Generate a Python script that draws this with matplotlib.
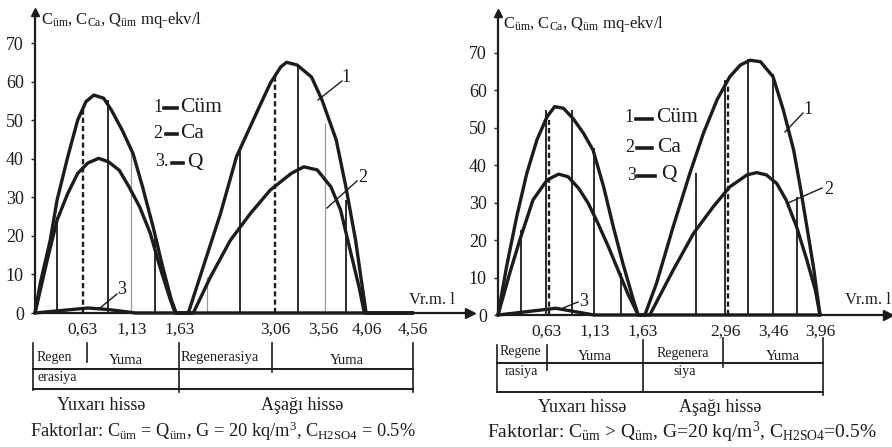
import numpy as np
import matplotlib
matplotlib.use("Agg")
import matplotlib.pyplot as plt
from matplotlib.lines import Line2D
from matplotlib import transforms

plt.rcParams['font.family'] = ['Liberation Serif', 'DejaVu Serif']
plt.rcParams['mathtext.fontset'] = 'custom'
plt.rcParams['mathtext.rm'] = 'Liberation Serif'
plt.rcParams['mathtext.it'] = 'Liberation Serif:italic'
plt.rcParams['mathtext.bf'] = 'Liberation Serif:bold'

INK = '#1c1c1c'

# ---------------- data: left panel (C_um = Q_um) ----------------
L_ticks = [0.63, 1.13, 1.63, 3.06, 3.56, 4.06, 4.56]
L_ticklabels = ["0,63", "1,13", "1,63", "3,06", "3,56", "4,06", "4,56"]
L_t1 = [0, 0.07, 0.20, 0.29, 0.43, 0.56, 0.66, 0.74, 0.84, 0.92, 1.03, 1.14, 1.24, 1.35, 1.45, 1.54, 1.59,
        1.755, 1.98, 2.24, 2.48, 2.78, 2.99, 3.12, 3.18, 3.29, 3.44, 3.55, 3.71, 3.82, 3.93, 4.00, 4.05, 4.56]
L_c1 = [0, 7.8, 18.9, 29.3, 40.5, 50, 54.8, 56.5, 55.7, 52.6, 47.4, 41.4, 32.7, 22.3, 11.9, 3.4, 0,
        0, 12, 25.8, 40.5, 51.8, 59.6, 63.8, 65, 64.3, 61.2, 55.2, 44.9, 32.7, 18.9, 7.8, 0, 0]
L_t2 = [0, 0.16, 0.29, 0.43, 0.56, 0.68, 0.79, 0.89, 1.00, 1.10, 1.21, 1.32, 1.42, 1.53, 1.58,
        1.83, 2.09, 2.39, 2.69, 2.99, 3.23, 3.36, 3.50, 3.65, 3.76, 3.86, 3.97, 4.03, 4.56]
L_c2 = [0, 13.7, 24.1, 31, 36.2, 38.9, 40.1, 39.2, 37, 32.7, 27.5, 20.7, 12, 3.4, 0,
        0, 9.4, 18.9, 25.8, 31.9, 36.2, 37.9, 37.1, 32.7, 26.7, 17.1, 6.7, 0, 0]
L_t3 = [0, 0.43, 0.68, 0.89, 1.17, 4.56]
L_c3 = [0, 0.8, 1.3, 0.9, 0, 0]
L_vt = [0.29, 0.63, 0.88, 1.12, 1.37, 2.04, 2.54, 3.06, 3.30, 3.58, 3.82]
L_vh = [25, 53.5, 55.2, 43.1, 20, 9.4, 42.3, 61.3, 64.3, 49.2, 29.3]
L_vs = ['s', 'd', 's', 'g', 's', 'g', 's', 'd', 's', 'g', 's']

# ---------------- data: right panel (C_um > Q_um) ----------------
R_ticks = [0.63, 1.13, 1.63, 2.96, 3.46, 3.96]
R_ticklabels = ["0,63", "1,13", "1,63", "2,96", "3,46", "3,96"]
R_t1 = [0, 0.11, 0.24, 0.37, 0.50, 0.63, 0.71, 0.80, 0.90, 1.01, 1.11, 1.22, 1.32, 1.42, 1.53, 1.58,
        1.66, 1.85, 2.12, 2.39, 2.61, 2.83, 3.01, 3.12, 3.22, 3.33, 3.46, 3.57, 3.68, 3.75, 3.82, 3.89, 3.96]
R_c1 = [0, 12.9, 26.2, 37.8, 46.7, 52.9, 55.6, 55.2, 52.5, 48.5, 44, 34.2, 23.6, 13.8, 4, 0,
        0, 8.5, 23.6, 37.8, 48.5, 57.4, 63.6, 66.7, 68, 67.6, 63.6, 54.7, 44, 34.2, 23.6, 12.9, 0]
R_t2 = [0, 0.15, 0.28, 0.45, 0.63, 0.75, 0.85, 0.96, 1.06, 1.16, 1.27, 1.37, 1.47, 1.58,
        1.74, 2.12, 2.45, 2.77, 3.01, 3.19, 3.29, 3.39, 3.50, 3.60, 3.71, 3.82, 3.91, 3.96]
R_c2 = [0, 11.1, 20, 30.7, 36, 37.6, 36.9, 33.8, 29.8, 24.5, 18.2, 12, 5.8, 0,
        0, 12, 21.8, 28.9, 34.2, 37.4, 38, 37.4, 35.1, 30.7, 23.6, 14.7, 6.7, 0]
R_t3 = [0, 0.54, 0.72, 0.90, 1.12, 3.96]
R_c3 = [0, 1.3, 1.8, 1.0, 0, 0]
R_vt = [0.30, 0.62, 0.65, 0.89, 1.12, 1.40, 2.49, 2.96, 2.99, 3.20, 3.46, 3.72]
R_vh = [22.7, 54.7, 52, 54.7, 44.5, 11.2, 37.8, 62.7, 61, 68.3, 64.3, 31.5]
R_vs = ['s', 's', 'd', 's', 's', 's', 's', 's', 'd', 's', 's', 's']

y_ticks = [0, 10, 20, 30, 40, 50, 60, 70]

# ---------------- figure helpers ----------------
W, H = 892, 447
fig = plt.figure(figsize=(W / 100, H / 100), dpi=100)
PX = transforms.Affine2D().scale(1 / W, -1 / H).translate(0, 1) + fig.transFigure


def ptext(x, y, s, size, ha='left', va='center', **kw):
    fig.text(x, y, s, transform=PX, fontsize=size, ha=ha, va=va, color=INK, **kw)


def pline(xs, ys, lw=1.2, **kw):
    fig.add_artist(Line2D(xs, ys, transform=PX, color=INK, lw=lw, **kw))


def make_scale(T, P):
    T = np.asarray(T, float)
    P = np.asarray(P, float)
    s0 = (P[1] - P[0]) / (T[1] - T[0])
    s1 = (P[-1] - P[-2]) / (T[-1] - T[-2])
    T2 = np.concatenate([[T[0] - 100], T, [T[-1] + 100]])
    P2 = np.concatenate([[P[0] - 100 * s0], P, [P[-1] + 100 * s1]])
    return (lambda x: np.interp(x, T2, P2)), (lambda y: np.interp(y, P2, T2))


def panel(x0, x1, y0, ytop, pxper10, anchT, anchP, ticks, tlabels,
          t1, c1, t2, c2, t3, c3, vt, vh, vs):
    ax = fig.add_axes([x0 / W, 1 - y0 / H, (x1 - x0) / W, (y0 - ytop) / H])
    fwd, inv = make_scale(anchT, anchP)
    ax.set_xscale('function', functions=(fwd, inv))
    ax.set_xlim(0, inv(x1))
    ax.set_ylim(0, (y0 - ytop) / (pxper10 / 10))
    ax.patch.set_alpha(0)
    for s in ['top', 'right']:
        ax.spines[s].set_visible(False)
    for s in ['left', 'bottom']:
        ax.spines[s].set_linewidth(1.6)
        ax.spines[s].set_color(INK)
    ax.set_yticks(y_ticks)
    ax.set_yticklabels([str(v) for v in y_ticks], fontsize=13, color=INK)
    ax.tick_params(axis='y', length=3, width=1, pad=5, color=INK)
    ax.set_xticks(ticks)
    ax.set_xticklabels(tlabels, fontsize=12.5, color=INK)
    ax.tick_params(axis='x', length=0, pad=6)
    ax.minorticks_off()
    # arrows
    ax.plot([0], [1], marker='^', ms=6, color=INK, transform=ax.transAxes, clip_on=False)
    ax.plot([1], [0], marker='>', ms=7, color=INK, transform=ax.transAxes, clip_on=False)
    # vertical sampling lines
    for t, h, s in zip(vt, vh, vs):
        if s == 's':
            ax.vlines(t, 0, h, color=INK, lw=1.3)
        elif s == 'd':
            ax.vlines(t, 0, h, color=INK, lw=1.7, linestyles=(0, (2.2, 1.3)))
        else:
            ax.vlines(t, 0, h, color='#9a9a9a', lw=0.9)
    # curves
    for t, c in ((t1, c1), (t2, c2), (t3, c3)):
        ax.plot(t, c, color=INK, lw=2.4, solid_joinstyle='round', solid_capstyle='round', clip_on=False)
    return ax


axL = panel(35, 470, 313, 12, 38.57, [0, 0.63, 1.13, 1.63, 3.06, 3.56, 4.06, 4.56],
            [35, 83, 132, 180, 275, 323, 367, 413], L_ticks, L_ticklabels,
            L_t1, L_c1, L_t2, L_c2, L_t3, L_c3, L_vt, L_vh, L_vs)
axR = panel(498, 888, 315, 13, 37.47, [0, 0.63, 1.13, 1.63, 2.96, 3.46, 3.96],
            [498, 547, 595, 643, 725, 773, 820], R_ticks, R_ticklabels,
            R_t1, R_c1, R_t2, R_c2, R_t3, R_c3, R_vt, R_vh, R_vs)

hdr = r"C$_{\rm üm}$, C$_{\rm Ca}$, Q$_{\rm üm}$ mq-ekv/l"
ptext(41, 20, hdr, 12)
ptext(503, 24, hdr, 12)

# x-axis names
ptext(455, 300, "Vr.m. l", 12, ha='right')
ptext(891, 300, "Vr.m. l", 12, ha='right')

# legends
for (nx, dx0, dx1, tx, y, num, name) in [
        (158, 164, 177, 180, 107, "1", "Cüm"), (158, 166, 177, 180, 133, "2", "Ca"),
        (162, 172, 183, 187, 162, "3.", "Q"),
        (629, 636, 652, 656, 118, "1", "Cüm"), (630, 637, 652, 657, 147, "2", "Ca"),
        (632, 638, 655, 661, 175, "3", "Q")]:
    ptext(nx, y, num, 13, ha='center')
    pline([dx0, dx1], [y + 1, y + 1], lw=2.6)
    ptext(tx, y, name, 15.5)

# curve labels with leaders
for (lx, ly, tx, ty, s) in [((318, 342), (100, 81), 346, 77, "1"), ((327, 357), (208, 181), 363, 177, "2"),
                            ((100, 117), (308, 294), 122, 290, "3"),
                            ((785, 803), (132, 113), 808, 109, "1"), ((788, 822), (203, 188), 829, 190, "2"),
                            ((563, 578), (308, 302), 584, 301, "3")]:
    pline(list(lx), list(ly), lw=1.0)
    ptext(tx, ty, s, 13, ha='center')

# stage tables
# left
for (x, a, b) in [(33, 343, 390), (87, 343, 362), (179, 343, 392), (272, 343, 372), (413, 343, 392)]:
    pline([x, x], [a, b], lw=1.2)
pline([33, 413], [369, 369], lw=1.4)
pline([33, 413], [389, 389], lw=1.4)
ptext(37, 358, "Regen", 10)
ptext(38, 377, "erasiya", 10)
ptext(126, 360, "Yuma", 10.5, ha='center')
ptext(181, 357, "Regenerasiya", 10.5)
ptext(347, 361, "Yuma", 10.5, ha='center')
ptext(101, 405, "Yuxarı hissə", 13, ha='center')
ptext(302, 405, "Aşağı hissə", 13, ha='center')
ptext(30, 431, r"Faktorlar: C$_{\rm üm}$ = Q$_{\rm üm}$, G = 20 kq/m$^3$, C$_{\rm H2SO4}$ = 0.5%", 13.2)
# right
for (x, a, b) in [(497, 345, 392), (547, 345, 370), (643, 340, 392), (723, 338, 367), (823, 338, 395)]:
    pline([x, x], [a, b], lw=1.2)
pline([497, 823], [363, 363], lw=1.4)
pline([497, 823], [392, 392], lw=1.4)
ptext(500, 352, "Regene", 10)
ptext(505, 371, "rasiya", 10)
ptext(595, 356, "Yuma", 10.5, ha='center')
ptext(657, 353, "Regenera", 10)
ptext(685, 372, "siya", 10, ha='center')
ptext(783, 357, "Yuma", 10.5, ha='center')
ptext(582, 407, "Yuxarı hissə", 13, ha='center')
ptext(720, 407, "Aşağı hissə", 13, ha='center')
ptext(487, 432, r"Faktorlar: C$_{\rm üm}$ > Q$_{\rm üm}$, G=20 kq/m$^3$, C$_{\rm H2SO4}$=0.5%", 14)

fig.savefig("out.png", dpi=100)
